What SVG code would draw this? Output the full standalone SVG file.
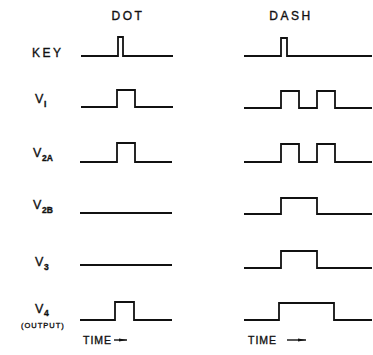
<svg xmlns="http://www.w3.org/2000/svg" width="373" height="355" viewBox="0 0 373 355">
<defs>
<style>
text{font-family:"Liberation Sans",Arial,sans-serif;fill:#111;stroke:#111;stroke-width:0.35}
.hd{font-size:12px;letter-spacing:2.5px;text-anchor:middle}
.lb{font-size:12px;letter-spacing:2.5px}
.tm{font-size:10.5px;letter-spacing:1px}
.v{font-size:12.5px}
.sub{font-size:8.5px;font-weight:bold}
.small{font-size:7.5px;letter-spacing:1px}
.w{fill:none;stroke:#111;stroke-width:1.8;stroke-linejoin:miter}
.ax{stroke:#111;stroke-width:1.4;fill:none}
</style>
<marker id="ah" markerWidth="8" markerHeight="6" refX="8" refY="3" orient="auto" markerUnits="userSpaceOnUse">
<path d="M0,1.5 L8,3 L0,4.5 Z" fill="#111"/>
</marker>
</defs>
<rect width="373" height="355" fill="#fff"/>
<g id="headers">
<text class="hd" x="128" y="20">DOT</text>
<text class="hd" x="291" y="20">DASH</text>
</g>
<g id="row-key">
<text class="lb" x="32" y="57">KEY</text>
</g>
<g id="row-v1">
<text class="v" x="35" y="103">V</text><text class="sub" x="44" y="107">I</text>
</g>
<g id="row-v2a">
<text class="v" x="33" y="157">V</text><text class="sub" x="42" y="161">2A</text>
</g>
<g id="row-v2b">
<text class="v" x="33" y="209">V</text><text class="sub" x="42" y="213">2B</text>
</g>
<g id="row-v3">
<text class="v" x="35" y="266">V</text><text class="sub" x="44" y="270">3</text>
</g>
<g id="row-v4">
<text class="v" x="35" y="313">V</text><text class="sub" x="44" y="316">4</text>
<text class="small" x="21" y="328">(OUTPUT)</text>
</g>
<g id="waveforms">
<path class="w" d="M81,56 H118 V37 H123 V56 H173"/>
<path class="w" d="M244,56 H281 V38 H287 V56 H372"/>
<path class="w" d="M81,107 H117 V90 H135 V107 H173"/>
<path class="w" d="M244,108 H281 V91 H299 V108 H317 V91 H335 V108 H372"/>
<path class="w" d="M80,162 H117 V143 H135 V162 H172"/>
<path class="w" d="M244,162 H281 V144 H299 V162 H317 V144 H335 V162 H372"/>
<path class="w" d="M80,213 H172"/>
<path class="w" d="M244,214 H281 V198 H317 V214 H372"/>
<path class="w" d="M80,265 H172"/>
<path class="w" d="M244,268 H281 V251 H317 V268 H372"/>
<path class="w" d="M80,320 H115 V302 H134 V320 H172"/>
<path class="w" d="M244,320 H279 V303 H334 V320 H372"/>
</g>
<g id="time-axes">
<text class="tm" x="83" y="344">TIME</text>
<line class="ax" x1="114" y1="340" x2="127" y2="340" marker-end="url(#ah)"/>
<text class="tm" x="248" y="344">TIME</text>
<line class="ax" x1="287" y1="340" x2="306" y2="340" marker-end="url(#ah)"/>
</g>
</svg>
